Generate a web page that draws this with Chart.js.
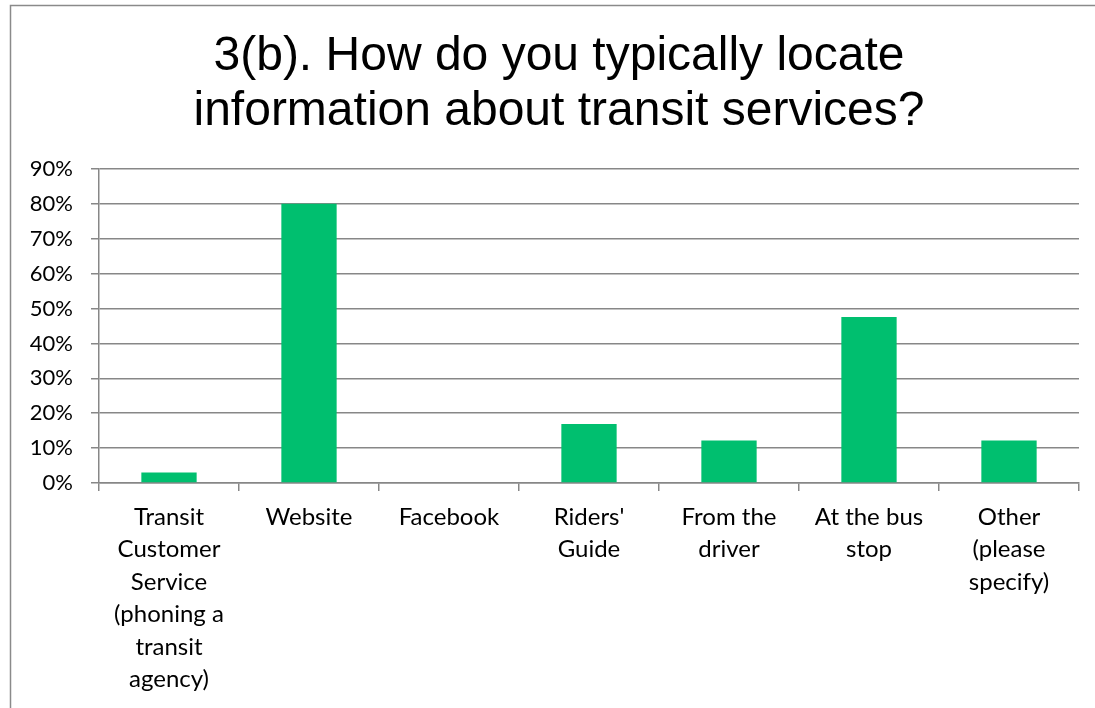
<!DOCTYPE html>
<html>
<head>
<meta charset="utf-8">
<script src="https://cdn.jsdelivr.net/npm/chart.js@4/dist/chart.umd.min.js"></script>
<style>
  html, body { margin: 0; padding: 0; background: #fff; overflow: hidden; }
  canvas { display: block; }
</style>
</head>
<body>
<canvas id="chart" width="1095" height="708"></canvas>
<script>
// Survey answers: how respondents find transit information
const categories = [
  ["Transit", "Customer", "Service", "(phoning a", "transit", "agency)"],
  "Website",
  "Facebook",
  ["Riders'", "Guide"],
  ["From the", "driver"],
  ["At the bus", "stop"],
  ["Other", "(please", "specify)"]
];
const shares = [3.0, 80.0, 0, 16.9, 12.2, 47.6, 12.2];   // percent of respondents
const yTicks = [0, 10, 20, 30, 40, 50, 60, 70, 80, 90];   // percent axis ticks

const titleLines = ["3(b). How do you typically locate", "information about transit services?"];

const gridColor = '#878787';

// Outer frame of the chart object (top and left edges are inside the page)
const framePlugin = {
  id: 'frame',
  beforeDraw(chart) {
    const ctx = chart.ctx;
    ctx.save();
    ctx.fillStyle = '#ffffff';
    ctx.fillRect(0, 0, chart.width, chart.height);
    ctx.strokeStyle = '#8a8a8a';
    ctx.lineWidth = 1.5;
    ctx.beginPath();
    ctx.moveTo(10.5, chart.height);
    ctx.lineTo(10.5, 5.5);
    ctx.lineTo(chart.width, 5.5);
    ctx.stroke();
    ctx.restore();
  }
};

// The frame continues past the right edge of the page, so the title is
// centred on the frame rather than on the visible canvas.
const titleShiftPlugin = {
  id: 'titleShift',
  afterLayout(chart) {
    if (chart.titleBlock) chart.titleBlock.left += 16;
  }
};

new Chart(document.getElementById('chart'), {
  type: 'bar',
  data: {
    labels: categories,
    datasets: [{
      data: shares,
      backgroundColor: '#00BF6F',
      borderWidth: 0,
      barPercentage: 0.395,
      categoryPercentage: 1.0
    }]
  },
  options: {
    responsive: false,
    animation: false,
    events: [],
    layout: { padding: { left: 23, right: 16, top: 0, bottom: 0 } },
    plugins: {
      legend: { display: false },
      tooltip: { enabled: false },
      title: {
        display: true,
        text: titleLines,
        color: '#000000',
        font: { family: '"Liberation Sans", Arial, sans-serif', size: 48, weight: 'normal', lineHeight: 1.135 },
        padding: { top: 30, bottom: 30 }
      }
    },
    scales: {
      x: {
        grid: {
          display: true,
          drawOnChartArea: false,
          drawTicks: true,
          tickLength: 8,
          offset: true,
          color: gridColor,
          lineWidth: 1.5
        },
        border: { display: true, color: gridColor, width: 1.5 },
        ticks: {
          autoSkip: false,
          maxRotation: 0,
          minRotation: 0,
          padding: 10,
          color: '#000000',
          font: { family: 'Lato, "Open Sans", sans-serif', size: 24, lineHeight: 1.35 }
        },
        afterFit(scale) { scale.height = 225; }
      },
      y: {
        min: 0,
        max: 90,
        afterBuildTicks(scale) { scale.ticks = yTicks.map(v => ({ value: v })); },
        grid: {
          color: gridColor,
          lineWidth: 1.5,
          drawTicks: true,
          tickLength: 8
        },
        border: { display: true, color: gridColor, width: 1.5 },
        ticks: {
          padding: 18,
          color: '#000000',
          font: { family: 'Lato, "Open Sans", sans-serif', size: 22 },
          callback: v => v + '%'
        },
        afterFit(scale) { scale.width = 76; }
      }
    }
  },
  plugins: [framePlugin, titleShiftPlugin]
});
</script>
</body>
</html>
